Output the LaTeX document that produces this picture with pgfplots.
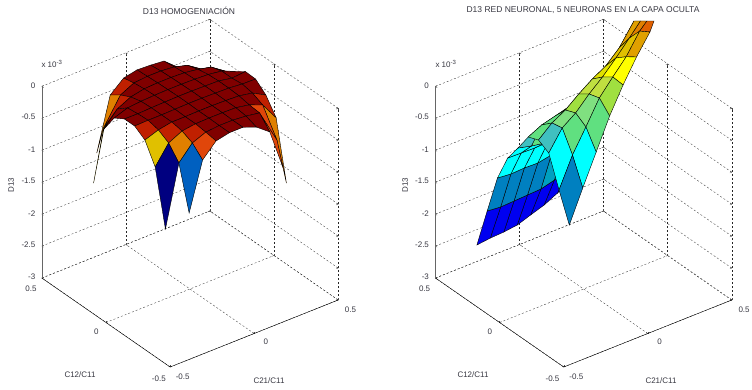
\documentclass[border=0pt]{standalone}
\usepackage{pgfplots}
\usepackage{pgfplotstable}
\usepackage{fontspec}
\setmainfont{Liberation Sans}
\pgfplotsset{compat=1.18}
\pgfplotstableread{
x y z c
0.36 0.36 nan 16
0.36 0.28 -0.355 16
0.36 0.20 -0.244 16
0.36 0.12 -0.14 16
0.36 0.04 -0.03 16
0.36 -0.04 -0.036 16
0.36 -0.12 -0.175 15
0.36 -0.20 -0.42 13
0.36 -0.28 -1.33 16
0.36 -0.36 nan 16

0.28 0.36 -0.336 16
0.28 0.28 -0.24 16
0.28 0.20 -0.1 16
0.28 0.12 -0.05 16
0.28 0.04 -0.05 16
0.28 -0.04 -0.03 16
0.28 -0.12 -0.06 16
0.28 -0.20 -0.136 14
0.304 -0.28 -0.6 14
0.28 -0.36 -0.9 16

0.20 0.36 -0.236 16
0.20 0.28 -0.1 16
0.20 0.20 -0.05 16
0.20 0.12 -0.02 16
0.20 0.04 -0.01 16
0.20 -0.04 -0.01 16
0.20 -0.12 -0.02 16
0.20 -0.20 -0.05 16
0.20 -0.28 -0.064 16
0.20 -0.36 -0.25 16

0.12 0.36 -0.06 16
0.12 0.28 -0.04 16
0.12 0.20 -0.02 16
0.12 0.12 -0.01 16
0.12 0.04 -0.005 16
0.12 -0.04 -0.005 16
0.12 -0.12 -0.01 16
0.12 -0.20 -0.01 16
0.12 -0.28 -0.03 16
0.12 -0.36 -0.09 16

0.04 0.36 -0.04 16
0.04 0.28 -0.02 16
0.04 0.20 -0.01 16
0.04 0.12 -0.005 16
0.04 0.04 0 16
0.04 -0.04 0 16
0.04 -0.12 -0.005 16
0.04 -0.20 -0.005 16
0.04 -0.28 -0.01 16
0.04 -0.36 -0.01 16

-0.04 0.36 -0.03 16
-0.04 0.28 -0.02 16
-0.04 0.20 -0.01 16
-0.04 0.12 -0.005 16
-0.04 0.04 0 16
-0.04 -0.04 0 16
-0.04 -0.12 -0.005 16
-0.04 -0.20 -0.005 16
-0.04 -0.28 -0.01 16
-0.04 -0.36 -0.01 16

-0.12 0.36 -0.074 15
-0.12 0.28 -0.04 16
-0.12 0.20 -0.02 16
-0.12 0.12 -0.01 16
-0.12 0.04 -0.005 16
-0.12 -0.04 -0.005 16
-0.12 -0.12 -0.01 16
-0.12 -0.20 -0.01 15
-0.12 -0.28 -0.03 14
-0.12 -0.36 -0.056 16

-0.20 0.36 -0.256 13
-0.20 0.28 -0.145 15
-0.20 0.20 -0.064 16
-0.20 0.12 -0.02 16
-0.20 0.04 -0.01 16
-0.20 -0.04 -0.01 16
-0.20 -0.12 -0.01 15
-0.20 -0.20 -0.04 13
-0.20 -0.28 -0.115 2
-0.20 -0.36 -0.27 16

-0.28 0.36 -1.08 16
-0.30 0.28 -0.555 12
-0.28 0.20 -0.168 16
-0.28 0.12 -0.04 16
-0.28 0.04 -0.02 16
-0.28 -0.04 -0.01 15
-0.28 -0.12 -0.05 12
-0.28 -0.20 -0.143 0
-0.28 -0.28 -0.345 16
-0.28 -0.36 -1.016 16

-0.36 0.36 nan 16
-0.36 0.28 -1.354 16
-0.36 0.20 -0.40 16
-0.36 0.12 -0.114 16
-0.36 0.04 -0.017 16
-0.36 -0.04 -0.016 16
-0.36 -0.12 -0.124 16
-0.36 -0.20 -0.435 16
-0.36 -0.28 -1.294 16
-0.36 -0.36 nan 16
}\homog
\pgfplotstableread{
x y z c
0.20 0.36 -2.005 1
0.20 0.28 -1.424 4
0.20 0.20 -0.843 5
0.20 0.12 -0.294 5
0.20 0.04 0.162 18
0.20 -0.04 0.586 18
0.208 -0.12 1.143 18
0.186 -0.20 1.278 13
0.163 -0.28 1.413 19
0.144 -0.36 1.544 16

0.12 0.36 -2.125 1
0.12 0.28 -1.654 4
0.12 0.20 -1.072 5
0.12 0.12 -0.523 5
0.12 0.04 -0.067 17
0.12 -0.04 0.357 17
0.12 -0.12 0.813 12
0.12 -0.20 1.081 12
0.12 -0.28 1.3 18
0.12 -0.36 1.398 16

0.04 0.36 -2.229 1
0.04 0.28 -1.726 4
0.04 0.20 -1.114 5
0.04 0.12 -0.643 5
0.04 0.04 -0.203 10
0.04 -0.04 0.222 17
0.04 -0.12 0.615 17
0.04 -0.20 0.852 11
0.04 -0.28 0.983 11
0.04 -0.36 1.09 16

-0.04 0.36 -2.3 1
-0.04 0.28 -1.783 3
-0.04 0.20 -1.14 5
-0.04 0.12 -0.715 5
-0.04 0.04 -0.29 9
-0.04 -0.04 0.134 9
-0.04 -0.12 0.495 10
-0.04 -0.20 0.638 10
-0.04 -0.28 0.75 9
-0.04 -0.36 0.736 16

-0.12 0.36 -2.374 1
-0.12 0.28 -1.793 3
-0.12 0.20 -1.181 5
-0.12 0.12 -0.741 5
-0.12 0.04 -0.364 8
-0.12 -0.04 0.03 9
-0.12 -0.12 0.345 9
-0.12 -0.20 0.456 8
-0.12 -0.28 0.505 7
-0.12 -0.36 0.335 16

-0.20 0.36 -2.4 1
-0.20 0.28 -1.803 3
-0.20 0.20 -1.175 5
-0.20 0.12 -0.751 5
-0.20 0.04 -0.561 7
-0.20 -0.04 -0.028 7
-0.20 -0.12 0.178 8
-0.20 -0.20 0.243 7
-0.20 -0.28 0.135 5
-0.20 -0.36 -0.145 16

-0.28 0.36 -2.41 1
-0.28 0.28 -1.813 3
-0.28 0.20 -1.185 5
-0.28 0.12 -0.745 5
-0.28 0.04 -0.524 6
-0.28 -0.04 -0.084 7
-0.28 -0.12 0.059 6
-0.28 -0.20 0.092 5
-0.28 -0.28 -0.22 3
-0.28 -0.36 -0.624 16

-0.36 0.36 -2.435 16
-0.36 0.28 -1.792 16
-0.36 0.20 -1.164 16
-0.36 0.12 -0.74 16
-0.36 0.04 -0.472 16
-0.36 -0.04 -0.188 16
-0.36 -0.12 -0.124 16
-0.36 -0.20 -0.216 16
-0.36 -0.28 -0.683 16
-0.36 -0.36 -1.12 16
}\neuron
\definecolor{txt}{RGB}{55,55,65}
\pgfplotsset{
  matbox/.style={
    x={(168pt,67pt)}, y={(-128.3pt,89pt)}, z={(0pt,63.9pt)},
    anchor=origin,
    xmin=-0.5, xmax=0.5, ymin=-0.5, ymax=0.5, zmin=-3, zmax=0,
    clip=false,
    xtick={-0.5,0,0.5}, ytick={-0.5,0,0.5},
    ztick={-3,-2.5,-2,-1.5,-1,-0.5,0},
    xticklabels={-0.5,0,0.5}, yticklabels={-0.5,0,0.5},
    zticklabels={-3,-2.5,-2,-1.5,-1,-0.5,0},
    grid=major,
    major grid style={black!85, line width=0.3pt, dash pattern=on 2pt off 2pt},
    axis line style={draw=none},
    tickwidth=2pt,
    tick style={black!70, line width=0.35pt},
    tick label style={font=\fontsize{8}{9}\selectfont, text=txt},
    xticklabel style={xshift=8pt, yshift=-1pt},
    yticklabel style={xshift=-5pt, yshift=-2pt},
    zticklabel style={xshift=-3pt},
    scaled ticks=false,
    /pgf/number format/assume math mode=true,
    colormap={mat}{
      rgb255=(0,0,128) rgb255=(0,0,240) rgb255=(0,96,192) rgb255=(0,128,192)
      rgb255=(0,160,192) rgb255=(0,255,255) rgb255=(64,192,192) rgb255=(96,224,128)
      rgb255=(128,224,128) rgb255=(160,224,64) rgb255=(192,224,64) rgb255=(255,255,0)
      rgb255=(224,192,0) rgb255=(224,128,0) rgb255=(224,70,10) rgb255=(192,32,0)
      rgb255=(128,0,0) rgb255=(224,224,0) rgb255=(224,160,0) rgb255=(224,96,0)
    },
    colormap access=direct,
  },
  matsurf/.style={surf, shader=flat corner, draw=black, line width=0.4pt, z buffer=none,
    point meta=explicit, unbounded coords=jump},
}
\begin{document}
\begin{tikzpicture}[x=1pt,y=1pt]
\useasboundingbox (0,0) rectangle (752,389);
\begin{axis}[matbox, at={(190pt,291.7pt)}]
  \addplot3[black, no marks, line width=0.4pt] coordinates {(-0.5,0.5,-3) (-0.5,-0.5,-3) (0.5,-0.5,-3)};
  \addplot3[black!60, no marks, line width=0.6pt] coordinates {(-0.5,0.5,-3) (-0.5,0.5,0)};
  \addplot3[matsurf, mesh/rows=10, mesh/cols=10] table[x=x,y=y,z=z,meta=c] {\homog};
\end{axis}
\begin{axis}[matbox, at={(583.6pt,291.7pt)}]
  \addplot3[black, no marks, line width=0.4pt] coordinates {(-0.5,0.5,-3) (-0.5,-0.5,-3) (0.5,-0.5,-3)};
  \addplot3[black!60, no marks, line width=0.6pt] coordinates {(-0.5,0.5,-3) (-0.5,0.5,0)};
  \addplot3[matsurf, mesh/rows=8, mesh/cols=10] table[x=x,y=y,z=z,meta=c] {\neuron};
\end{axis}
\tikzset{lab/.style={font=\fontsize{8}{9}\selectfont, text=txt, inner sep=0pt},
         ttl/.style={font=\fontsize{8.5}{10}\selectfont, text=txt, inner sep=0pt}}
\node[ttl] at (189,378.5) {D13 HOMOGENIACIÓN};
\node[ttl] at (583,378.5) {D13 RED NEURONAL, 5 NEURONAS EN LA CAPA OCULTA};
\node[lab] at (52,325) {x 10\textsuperscript{-3}};
\node[lab] at (446,325) {x 10\textsuperscript{-3}};
\node[lab, rotate=90] at (11,204) {D13};
\node[lab, rotate=90] at (405,204) {D13};
\node[lab] at (80,14) {C12/C11};
\node[lab] at (473,14) {C12/C11};
\node[lab] at (269,8) {C21/C11};
\node[lab] at (661,8) {C21/C11};
\end{tikzpicture}
\end{document}
